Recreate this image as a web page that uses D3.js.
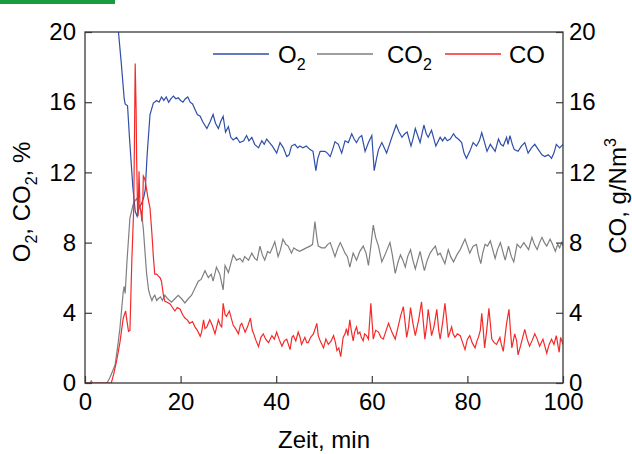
<!DOCTYPE html>
<html>
<head>
<meta charset="utf-8">
<script src="https://cdn.jsdelivr.net/npm/d3@7"></script>
<style>
  body { margin: 0; background: #fff; }
  svg text { font-family: "Liberation Sans", Arial, sans-serif; fill: #000; }
</style>
</head>
<body>
<div id="chart"></div>
<script>
// time (min) / value pairs
var o2Data = [[0,20.9],[6.3,20.9],[7.0,20.0],[7.6,18.2],[8.2,16.2],[8.4,15.9],[8.9,15.8],[9.3,14.0],[10.0,11.2],[10.5,9.8],[10.9,9.5],[11.3,10.0],[11.8,10.2],[12.3,10.6],[12.6,11.0],[13.0,13.0],[13.6,15.3],[14.3,15.95],[15.0,16.1],[15.5,16.0],[16.0,16.3],[16.5,16.1],[17.0,16.3],[17.5,16.0],[18.0,16.2],[18.5,16.35],[19.0,16.2],[19.5,16.25],[20.0,16.1],[20.5,16.0],[21.0,16.2],[21.5,16.3],[22.0,16.0],[22.5,15.9],[23.0,15.6],[23.5,15.3],[24.1,15.2],[24.6,14.9],[25.5,14.5],[26.2,14.9],[26.8,15.3],[27.3,14.8],[27.9,14.5],[28.4,14.9],[28.9,15.2],[29.4,14.3],[30.0,14.6],[30.5,14.0],[31.0,13.85],[31.7,14.0],[32.4,13.7],[33.2,13.8],[33.8,14.1],[34.3,13.8],[34.9,14.0],[35.5,13.6],[36.3,13.4],[37.0,13.8],[37.5,13.6],[38.0,13.9],[38.6,13.7],[39.2,13.5],[40.1,13.1],[40.8,13.7],[41.5,13.4],[42.2,12.9],[42.7,13.0],[43.2,13.5],[43.9,13.6],[44.5,13.4],[44.9,13.5],[45.6,13.4],[46.3,13.5],[47.1,13.3],[47.7,13.2],[48.3,12.1],[48.7,12.8],[49.2,13.2],[50.2,13.2],[50.7,13.1],[51.3,12.9],[51.8,13.3],[52.3,13.75],[53.0,13.6],[53.7,13.1],[54.4,13.8],[55.1,13.7],[55.8,14.2],[56.3,13.9],[56.8,13.7],[57.4,14.0],[57.9,14.1],[58.6,13.2],[59.3,13.7],[60.0,14.1],[60.5,12.1],[61.0,12.8],[61.4,13.3],[62.1,13.7],[62.6,13.4],[63.1,13.1],[63.7,13.6],[64.2,14.0],[65.1,14.7],[65.7,14.3],[66.3,14.0],[66.9,14.2],[67.4,14.3],[68.2,13.5],[68.7,14.0],[69.1,14.5],[69.6,14.1],[70.1,13.7],[70.5,14.2],[70.9,14.7],[71.4,14.2],[71.8,14.0],[72.5,14.4],[73.0,13.9],[73.4,13.5],[74.3,14.0],[74.8,13.8],[75.3,14.0],[75.8,13.8],[76.4,13.9],[77.1,14.2],[77.6,14.0],[78.1,13.9],[78.8,13.7],[79.3,13.1],[79.8,12.8],[80.5,13.2],[81.2,13.7],[81.9,13.5],[82.5,13.8],[83.0,14.26],[83.6,13.7],[84.1,13.2],[84.8,13.6],[85.3,13.4],[85.8,13.2],[86.5,13.9],[87.0,13.6],[87.5,13.5],[88.2,14.0],[88.5,13.6],[88.9,14.1],[89.4,13.6],[89.8,13.3],[90.6,13.2],[91.3,13.5],[92.0,13.7],[92.7,13.1],[93.4,13.4],[94.1,13.6],[94.6,13.4],[95.1,13.2],[95.6,13.0],[96.2,12.9],[96.9,13.0],[97.3,12.9],[97.6,12.8],[98.1,13.1],[98.6,13.6],[99.3,13.4],[100,13.6]];

var co2Data = [[0,0],[1.0,0],[1.3,0.12],[1.6,0],[4.6,0],[5.2,0.3],[5.8,0.7],[6.3,1.04],[6.8,2.0],[7.3,3.1],[7.7,4.3],[8.0,5.2],[8.2,5.5],[8.4,5.1],[8.8,7.0],[9.4,9.4],[10.1,10.2],[10.5,10.4],[10.8,10.5],[11.2,10.2],[11.5,10.0],[11.9,9.5],[12.2,8.8],[12.6,7.3],[12.9,6.2],[13.3,5.3],[13.6,5.0],[14.0,4.7],[14.3,4.9],[14.6,5.0],[15.0,4.7],[15.3,4.8],[15.8,4.9],[16.2,4.7],[16.7,5.0],[17.3,4.8],[18.1,4.6],[18.8,4.8],[19.5,5.0],[20.2,4.8],[20.9,4.56],[21.6,4.8],[22.3,5.0],[23.0,5.4],[23.7,5.8],[24.3,5.9],[25.1,6.4],[25.8,6.0],[26.4,6.2],[26.8,5.8],[27.5,6.6],[28.2,6.2],[28.9,5.3],[29.3,6.7],[30.0,6.3],[30.5,6.8],[31.0,7.3],[31.7,7.0],[32.4,7.1],[33.0,6.9],[33.4,7.2],[34.2,7.0],[34.9,7.4],[35.5,7.1],[36.0,7.0],[36.6,7.8],[37.1,7.3],[37.6,7.0],[38.2,7.5],[38.7,7.4],[39.2,7.7],[39.7,8.05],[40.4,7.2],[40.9,7.6],[41.4,8.2],[42.0,7.9],[42.5,7.8],[43.2,7.4],[43.7,7.7],[44.2,7.6],[44.9,7.5],[45.6,7.6],[46.3,7.7],[47.1,7.8],[47.6,7.9],[48.1,9.2],[48.5,8.3],[48.8,7.8],[49.5,7.7],[50.2,7.7],[50.8,7.9],[51.3,8.0],[51.8,7.6],[52.3,7.2],[52.9,7.7],[53.4,8.0],[53.9,7.7],[54.4,7.4],[54.9,7.2],[55.4,6.6],[56.1,7.4],[56.8,7.0],[57.5,7.5],[58.2,7.8],[58.8,7.4],[59.3,6.7],[59.8,7.8],[60.3,9.0],[60.8,8.3],[61.4,7.8],[62.1,6.9],[62.9,7.4],[63.8,8.0],[64.3,7.3],[64.9,6.25],[65.5,6.9],[66.0,7.3],[66.5,7.0],[67.0,6.6],[67.5,7.2],[68.1,7.6],[68.6,7.0],[69.1,6.5],[69.6,7.0],[70.1,7.5],[70.5,7.0],[71.0,6.4],[71.6,7.0],[72.2,7.4],[72.7,7.6],[73.3,7.8],[73.8,7.3],[74.3,7.4],[74.8,7.1],[75.3,6.8],[76.0,7.6],[76.5,7.2],[77.1,6.9],[77.8,7.3],[78.5,7.6],[79.0,7.9],[79.5,8.2],[80.0,7.8],[80.5,7.4],[81.2,7.8],[81.9,7.9],[82.3,7.3],[82.8,6.8],[83.2,7.4],[83.7,7.9],[84.2,7.8],[84.8,8.1],[85.3,7.6],[85.8,7.1],[86.3,7.6],[86.9,8.0],[87.4,7.5],[87.9,7.0],[88.6,7.8],[89.2,7.2],[89.7,6.9],[90.4,7.9],[91.1,7.7],[91.8,8.0],[92.3,7.8],[92.8,7.6],[93.5,8.3],[94.0,7.9],[94.6,7.6],[95.1,8.0],[95.6,8.3],[96.1,8.0],[96.6,7.8],[97.3,8.2],[97.8,7.9],[98.4,7.5],[98.9,7.9],[99.3,7.7],[99.7,8.0],[100,7.8]];

var coData = [[0,0],[5.5,0],[6.0,0.5],[6.6,1.24],[7.3,2.3],[8.0,3.7],[8.5,4.1],[8.8,3.5],[9.1,2.95],[9.4,3.0],[9.6,5.0],[9.8,7.0],[10.0,8.5],[10.2,10.0],[10.35,14.0],[10.5,18.2],[10.7,15.5],[10.8,12.8],[11.0,9.8],[11.1,9.5],[11.3,12.06],[11.5,10.0],[11.7,9.8],[11.9,9.2],[12.1,10.5],[12.2,11.8],[12.4,11.7],[12.6,11.5],[12.9,11.0],[13.2,10.5],[13.6,9.97],[14.0,8.5],[14.3,7.2],[14.6,6.2],[15.0,6.2],[15.3,6.1],[15.7,6.0],[16.0,5.8],[16.4,5.0],[16.7,4.65],[17.2,4.6],[17.8,4.5],[18.3,4.3],[18.8,4.1],[19.3,4.3],[19.9,4.2],[20.4,3.9],[20.9,3.7],[21.4,3.6],[21.9,3.4],[22.5,3.5],[23.0,3.2],[23.5,3.0],[24.1,2.66],[24.4,2.9],[24.8,3.6],[25.1,3.1],[25.5,3.2],[26.1,3.6],[26.6,3.3],[27.2,2.8],[27.9,3.6],[28.3,3.3],[28.6,3.2],[28.9,4.54],[29.3,3.9],[29.6,3.8],[30.2,4.1],[30.6,3.7],[31.0,3.3],[31.5,3.1],[32.1,2.8],[32.5,3.3],[32.8,3.4],[33.5,2.9],[34.0,3.2],[34.6,3.7],[35.0,3.0],[35.3,2.8],[35.8,2.4],[36.3,2.07],[36.8,2.6],[37.3,2.8],[37.8,2.5],[38.4,2.3],[39.1,2.7],[39.6,2.5],[40.1,2.9],[40.6,2.5],[41.2,2.1],[41.7,2.4],[42.2,2.5],[42.9,1.9],[43.3,2.6],[43.6,2.7],[44.1,2.4],[44.6,2.9],[45.0,2.6],[45.3,2.2],[46.0,2.6],[46.4,2.3],[46.7,2.3],[47.2,2.6],[47.8,2.8],[48.5,3.4],[48.8,2.7],[49.2,2.4],[49.9,2.0],[50.4,2.5],[50.9,2.2],[51.5,2.4],[52.0,2.7],[52.4,2.3],[52.7,1.85],[53.1,2.0],[53.5,1.5],[54.0,2.6],[54.4,2.8],[54.7,3.1],[55.0,2.7],[55.4,3.6],[55.7,3.0],[56.1,2.4],[56.4,2.9],[56.8,3.2],[57.1,2.8],[57.5,2.9],[57.8,2.6],[58.2,2.4],[58.5,2.8],[58.9,2.7],[59.3,2.5],[59.8,4.54],[60.3,2.5],[60.8,3.0],[61.4,2.9],[61.9,2.6],[62.4,2.5],[63.0,3.0],[63.5,3.4],[64.2,2.9],[64.9,2.5],[65.5,3.2],[66.0,3.8],[66.6,4.35],[67.3,2.6],[67.7,3.2],[68.1,4.3],[68.6,3.4],[69.1,2.7],[69.8,3.6],[70.4,4.63],[71.1,2.5],[71.5,3.3],[71.8,4.2],[72.2,3.4],[72.5,2.7],[73.0,3.2],[73.6,4.2],[74.0,3.0],[74.3,2.5],[74.8,3.4],[75.3,4.54],[75.7,3.5],[76.0,2.6],[76.7,3.2],[77.0,2.8],[77.4,2.6],[77.9,2.8],[78.5,2.7],[79.0,2.3],[79.5,1.9],[80.0,2.5],[80.5,2.7],[81.0,2.3],[81.6,2.0],[82.0,2.4],[82.3,2.6],[82.7,3.0],[83.0,3.97],[83.3,3.1],[83.6,2.0],[84.0,2.9],[84.5,4.25],[85.1,2.5],[85.6,2.3],[86.1,2.2],[86.8,2.6],[87.1,2.2],[87.5,1.8],[88.2,3.4],[88.7,4.2],[89.0,3.0],[89.3,2.0],[89.9,2.8],[90.3,2.4],[90.6,1.6],[91.2,2.2],[92.0,3.05],[92.5,2.5],[93.0,2.1],[93.5,2.4],[94.1,2.8],[94.6,2.5],[95.1,2.1],[95.8,2.5],[96.6,1.7],[97.1,2.2],[97.6,2.5],[98.1,2.2],[98.6,2.7],[99.2,1.75],[99.5,2.6],[100,2.2]];

var xTicks = [0, 20, 40, 60, 80, 100];
var yTicks = [0, 4, 8, 12, 16, 20];

var width = 632, height = 454;
var margin = { left: 85, right: 69, top: 32, bottom: 71 };
var w = width - margin.left - margin.right;
var h = height - margin.top - margin.bottom;

var svg = d3.select('#chart')
    .append('svg')
    .attr('width', width)
    .attr('height', height);

// green strip in the corner
svg.append('rect')
    .attr('x', 0).attr('y', 0)
    .attr('width', 115).attr('height', 4)
    .attr('fill', '#1b9a3e');

var x = d3.scaleLinear().domain([0, 100]).range([0, w]);
var yL = d3.scaleLinear().domain([0, 20]).range([h, 0]);
var yR = d3.scaleLinear().domain([0, 20]).range([h, 0]);

var g = svg.append('g')
    .attr('transform', 'translate(' + margin.left + ',' + margin.top + ')');

svg.append('defs').append('clipPath').attr('id', 'plotclip')
    .append('rect').attr('width', w).attr('height', h);

var lines = g.append('g').attr('clip-path', 'url(#plotclip)');

var lineL = d3.line().x(d => x(d[0])).y(d => yL(d[1]));
var lineR = d3.line().x(d => x(d[0])).y(d => yR(d[1]));

lines.append('path').datum(co2Data)
    .attr('d', lineL).attr('fill', 'none')
    .attr('stroke', '#7f7f7f').attr('stroke-width', 1.2);
lines.append('path').datum(o2Data)
    .attr('d', lineL).attr('fill', 'none')
    .attr('stroke', '#2f4fa8').attr('stroke-width', 1.2);
lines.append('path').datum(coData)
    .attr('d', lineR).attr('fill', 'none')
    .attr('stroke', '#f42a2a').attr('stroke-width', 1.2);

// frame
g.append('rect')
    .attr('width', w).attr('height', h)
    .attr('fill', 'none').attr('stroke', '#3a3a3a').attr('stroke-width', 1.3);

function styleAxis(sel) {
    sel.select('.domain').remove();
    sel.selectAll('.tick line').attr('stroke', '#3a3a3a').attr('stroke-width', 1.2);
    sel.selectAll('.tick text').attr('font-size', 24).attr('fill', '#000');
}

g.append('g')
    .call(d3.axisLeft(yL).tickValues(yTicks).tickSizeInner(-7).tickSizeOuter(0).tickPadding(9).tickFormat(d3.format('d')))
    .attr('font-family', null)
    .call(styleAxis);

g.append('g')
    .attr('transform', 'translate(' + w + ',0)')
    .call(d3.axisRight(yR).tickValues(yTicks).tickSizeInner(-7).tickSizeOuter(0).tickPadding(6).tickFormat(d3.format('d')))
    .attr('font-family', null)
    .call(styleAxis);

g.append('g')
    .attr('transform', 'translate(0,' + h + ')')
    .call(d3.axisBottom(x).tickValues(xTicks).tickSizeInner(-7).tickSizeOuter(0).tickPadding(10).tickFormat(d3.format('d')))
    .attr('font-family', null)
    .call(styleAxis);

// axis titles
svg.append('text')
    .attr('x', margin.left + w / 2).attr('y', 448)
    .attr('text-anchor', 'middle').attr('font-size', 24)
    .text('Zeit, min');

var lt = svg.append('text')
    .attr('transform', 'translate(30,202) rotate(-90)')
    .attr('text-anchor', 'middle').attr('font-size', 24);
lt.append('tspan').text('O');
lt.append('tspan').attr('font-size', 16).attr('dy', 7).text('2');
lt.append('tspan').attr('dy', -7).text(', CO');
lt.append('tspan').attr('font-size', 16).attr('dy', 7).text('2');
lt.append('tspan').attr('dy', -7).text(', %');

var rt = svg.append('text')
    .attr('transform', 'translate(626,196) rotate(-90)')
    .attr('text-anchor', 'middle').attr('font-size', 24);
rt.append('tspan').text('CO, g/Nm');
rt.append('tspan').attr('font-size', 16).attr('dy', -10).text('3');

// legend
var legendItems = [
    { name: 'O', sub: '2', color: '#2f4fa8', x0: 213, tx: 278 },
    { name: 'CO', sub: '2', color: '#7f7f7f', x0: 317, tx: 387 },
    { name: 'CO', sub: '', color: '#f42a2a', x0: 445, tx: 509 }
];
var leg = svg.append('g');
legendItems.forEach(function (d) {
    leg.append('line')
        .attr('x1', d.x0).attr('x2', d.x0 + 56)
        .attr('y1', 54).attr('y2', 54)
        .attr('stroke', d.color).attr('stroke-width', 1.3);
    var t = leg.append('text')
        .attr('x', d.tx).attr('y', 63)
        .attr('font-size', 24);
    t.append('tspan').text(d.name);
    if (d.sub) t.append('tspan').attr('font-size', 16).attr('dy', 7).text(d.sub);
});
</script>
</body>
</html>
